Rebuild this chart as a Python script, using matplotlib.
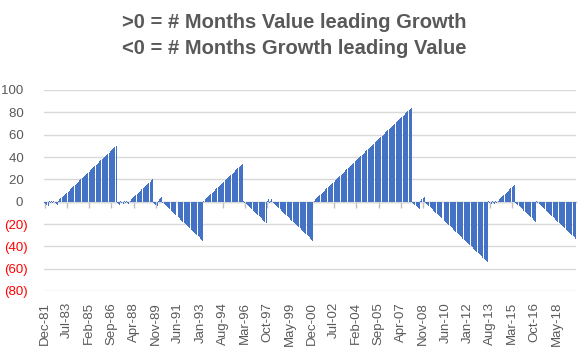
import numpy as np
import matplotlib
matplotlib.use("Agg")
import matplotlib.pyplot as plt

# Signed run lengths: each entry is a streak of consecutive
# months (positive = Value leading Growth, negative = Growth leading Value).
# The bar value is the running count within each streak.
run_lengths = [-4, 1, -1, 1, -1, 1, -3,
               50,
               -3, 1, -2, 1, -1, 1, -2,
               20, -4, 4, -35, 34, 1, -19,
               2, -1, 2,
               -35, 84, -7, 4, -54,
               1, -2, 1, -2, 1, -1,
               15, -18, 1, -33]

# Monthly series start Dec-81; one tick label every 19 months
tick_labels = ["Dec-81", "Jul-83", "Feb-85", "Sep-86", "Apr-88", "Nov-89",
               "Jun-91", "Jan-93", "Aug-94", "Mar-96", "Oct-97", "May-99",
               "Dec-00", "Jul-02", "Feb-04", "Sep-05", "Apr-07", "Nov-08",
               "Jun-10", "Jan-12", "Aug-13", "Mar-15", "Oct-16", "May-18"]
y_ticks = [-80, -60, -40, -20, 0, 20, 40, 60, 80, 100]
title_lines = [">0 = # Months Value leading Growth",
               "<0 = # Months Growth leading Value"]

values = []
for r in run_lengths:
    s = 1 if r > 0 else -1
    values.extend([s * k for k in range(1, abs(r) + 1)])
values = np.array(values)
x = np.arange(len(values))
tick_pos = np.arange(len(tick_labels)) * 19

plt.rcParams['font.family'] = ['Liberation Sans', 'DejaVu Sans']
GRAY = '#595959'

fig = plt.figure(figsize=(5.88, 3.56), dpi=100)
ax = fig.add_axes([44 / 588, 1 - 291 / 356, 532 / 588, 201 / 356])

ax.bar(x, values, width=0.85, color='#4472C4', linewidth=0, zorder=2,
       antialiased=False)

ax.set_xlim(-0.5, len(values) - 0.5)
ax.set_ylim(-80, 100)
ax.set_yticks(y_ticks)
ylabels = [f"{v} " if v >= 0 else f"({-v})" for v in y_ticks]
ax.set_yticklabels(ylabels)
for lab, v in zip(ax.get_yticklabels(), y_ticks):
    lab.set_color('#FF0000' if v < 0 else GRAY)
ax.tick_params(axis='y', length=0, pad=12, labelsize=9.5)
ax.yaxis.grid(True, color='#D9D9D9', linewidth=1.0, zorder=0)
ax.set_axisbelow(True)

ax.set_xticks(tick_pos)
ax.set_xticklabels(tick_labels, rotation=90, color=GRAY, fontsize=9.5)
ax.tick_params(axis='x', length=0, pad=8)

for sp in ax.spines.values():
    sp.set_visible(False)

# Category axis line at zero with outward tick marks
sec = ax.secondary_xaxis(80 / 180)
sec.set_xticks(tick_pos)
sec.set_xticklabels([])
sec.tick_params(axis='x', length=4, color='#BFBFBF', width=1)
sec.spines['bottom'].set_color('#BFBFBF')
sec.spines['bottom'].set_linewidth(1)

fig.text(0.5, 1 - 23 / 356, title_lines[0], ha='center', va='center',
         fontsize=14.5, fontweight='bold', color=GRAY)
fig.text(0.5, 1 - 48 / 356, title_lines[1], ha='center', va='center',
         fontsize=14.5, fontweight='bold', color=GRAY)

fig.savefig("out.png", dpi=100)
